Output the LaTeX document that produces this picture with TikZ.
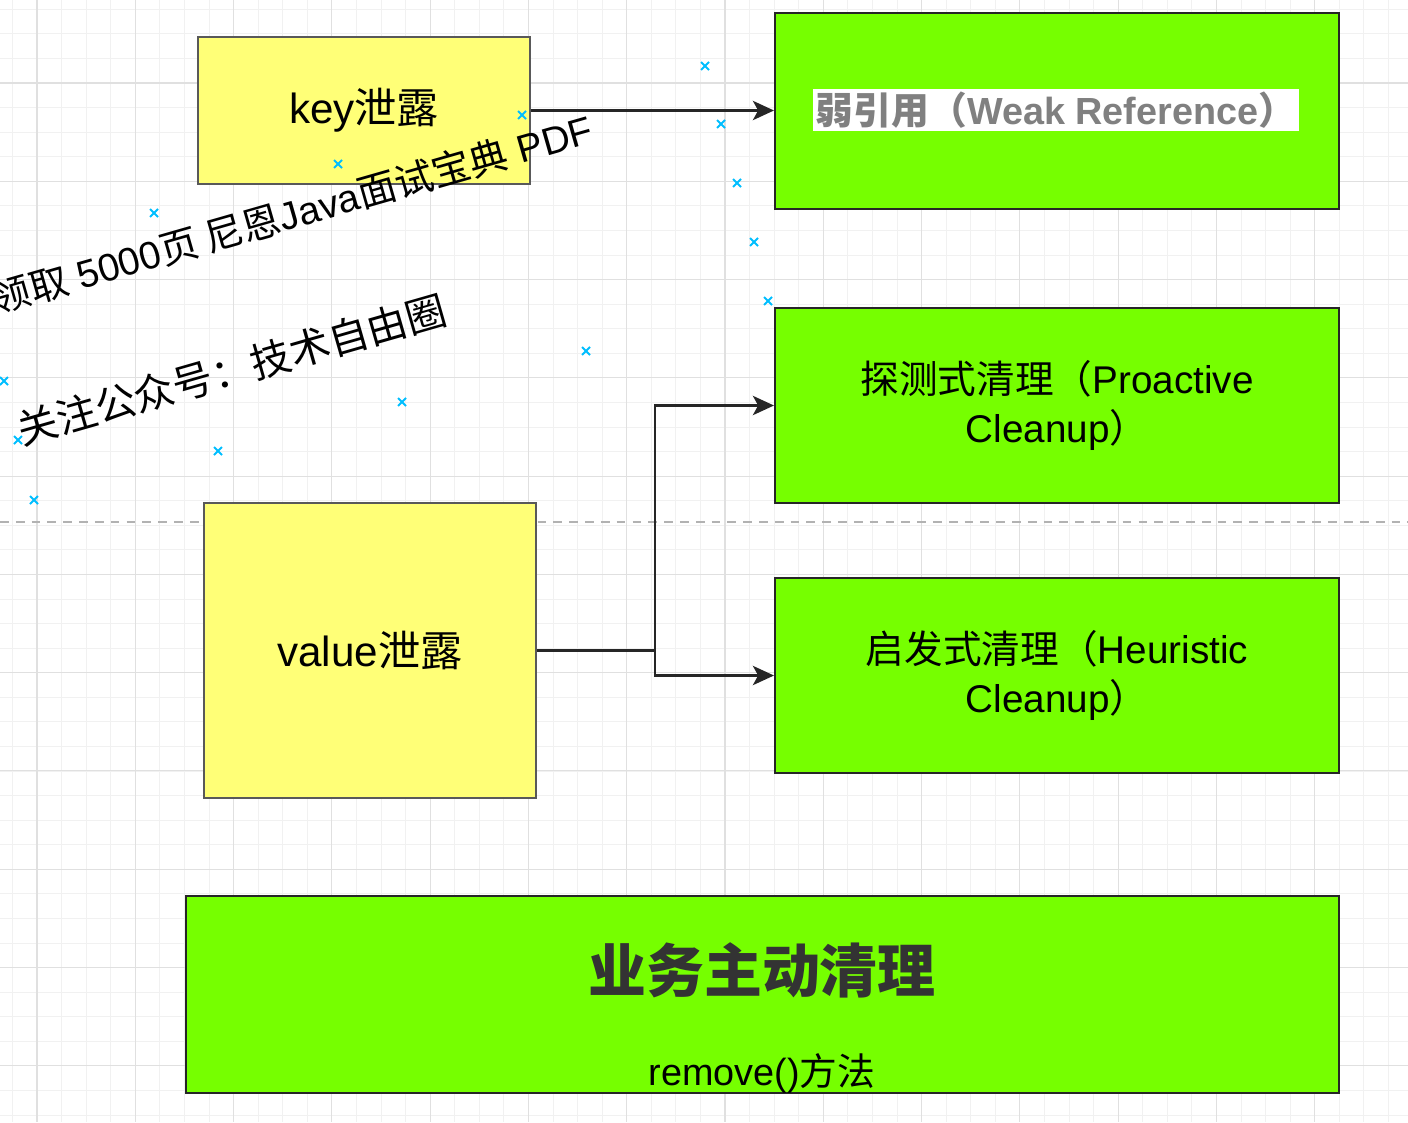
\documentclass[tikz,border=0pt]{standalone}
\usepackage{fontspec}
\setmainfont{Liberation Sans}
\newfontfamily\cjk{Noto Sans CJK SC}
\usetikzlibrary{arrows.meta}

\definecolor{leakyellow}{RGB}{255,255,119}
\definecolor{cleangreen}{RGB}{118,255,0}
\definecolor{markcyan}{RGB}{0,190,255}
\definecolor{gridminor}{RGB}{241,241,241}
\definecolor{gridmajor}{RGB}{224,224,224}

\tikzset{
	leak/.style={draw=black!65, line width=1.2pt, fill=leakyellow, font=\fontsize{24}{29}\selectfont},
	clean/.style={draw=black!85, line width=1.2pt, fill=cleangreen, align=center, font=\fontsize{22}{28}\selectfont},
	arr/.style={-{Stealth[length=12pt,width=11pt,inset=3pt]}, line width=1.3pt, black!85},
	xmark/.style={markcyan, line width=1.1pt},
	watermark/.style={rotate=16, inner sep=0pt, font=\fontsize{23}{27}\selectfont},
}

\begin{document}
\begin{tikzpicture}[x=0.02cm,y=-0.02cm]
\def\px{0.02cm}

\def\minorstep{24.57}
\def\majorstep{98.28}

\useasboundingbox (0,0) rectangle (1408,1122);

% grid
\foreach \i in {0,...,57}
	\draw[gridminor, line width=0.5pt] ({12.43+\minorstep*\i},0) -- ({12.43+\minorstep*\i},1122);
\foreach \i in {0,...,45}
	\draw[gridminor, line width=0.5pt] (0,{9.29+\minorstep*\i}) -- (1408,{9.29+\minorstep*\i});
\foreach \i in {0,...,14}
	\draw[gridmajor, line width=0.6pt] ({37+\majorstep*\i},0) -- ({37+\majorstep*\i},1122);
\foreach \i in {0,...,10}
	\draw[gridmajor, line width=0.6pt] (0,{83+\majorstep*\i}) -- (1408,{83+\majorstep*\i});

% page break
\draw[black!30, line width=0.8pt, dash pattern=on 5pt off 4pt] (0,522) -- (1408,522);

% leaks
\node[leak, minimum width=332*\px, minimum height=147*\px] (keyleak) at (364,110.5) {key{\cjk 泄露}};
\node[leak, minimum width=332*\px, minimum height=295*\px] (valueleak) at (370,650.5) {value{\cjk 泄露}};

% cleanups
\node[clean, minimum width=564*\px, minimum height=196*\px] (weakref) at (1057,111) {};
\node[fill=white, inner sep=1.5pt, text=black!50, font=\bfseries\fontsize{21.5}{25}\selectfont] (weaklabel) at (1056,110) {{\cjk 弱引用（}Weak Reference{\cjk ）}};
\node[clean, minimum width=564*\px, minimum height=195*\px] (proactive) at (1057,405.5) {{\cjk 探测式清理（}Proactive\\Cleanup{\cjk ）}};
\node[clean, minimum width=564*\px, minimum height=195*\px] (heuristic) at (1057,675.5) {{\cjk 启发式清理（}Heuristic\\Cleanup{\cjk ）}};

\node[clean, minimum width=1153*\px, minimum height=197*\px] (active) at (762.5,994.5) {};
\node[text=black!80, font=\cjk\bfseries\fontsize{33}{40}\selectfont] (activetitle) at (762,970) {业务主动清理};
\node[font=\fontsize{21.5}{25}\selectfont] (activenote) at (762,1073) {remove(){\cjk 方法}};

% arrows
\draw[arr] (keyleak.east) -- (keyleak.east -| weakref.west);
\coordinate (split) at (655,650.5);
\draw[line width=1.3pt, black!85] (valueleak.east) -- (split);
\draw[arr] (split) |- (proactive.west);
\draw[arr] (split) |- (heuristic.west);

% watermark
\node[watermark, anchor=base east, font=\fontsize{22}{26}\selectfont] (wmpdf) at (596,142) {{\cjk 领取} 5000{\cjk 页 尼恩}Java{\cjk 面试宝典} PDF};
\node[watermark, anchor=base west] (wmwechat) at (22,446) {\cjk 关注公众号：技术自由圈};

% marks
\foreach \mx/\my in {705/66, 522/115, 721/124, 338/164, 737/183, 154/213, 754/242, 768/301,
	586/351, 4/381, 402/402, 18/440, 218/451, 34/500}
	\draw[xmark] (\mx,\my) ++(-4,-4) -- ++(8,8) ++(0,-8) -- ++(-8,8);

\end{tikzpicture}
\end{document}
